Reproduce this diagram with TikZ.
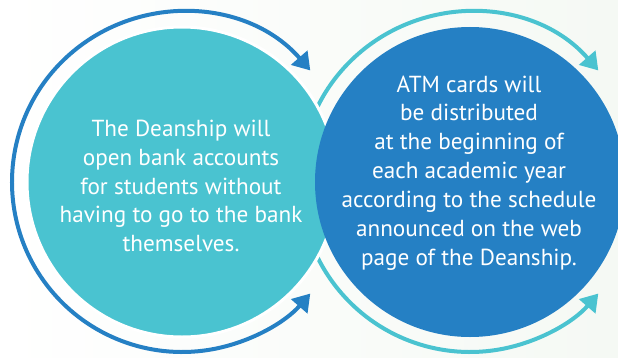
\documentclass[tikz,border=0pt]{standalone}
\usepackage{fontspec}
\setmainfont{PT Sans}
\usetikzlibrary{arrows.meta}
\definecolor{tealc}{RGB}{74,195,208}
\definecolor{bluec}{RGB}{37,128,196}
\definecolor{bgc}{RGB}{245,249,244}

\begin{document}
\begin{tikzpicture}[x=1pt, y=1pt,
		bubble/.style={circle, minimum size=310pt, inner sep=0pt},
		loop/.style={line width=4pt, {Triangle[length=17pt, width=21pt]}-{Triangle[length=17pt, width=21pt]}},
		words/.style={text=white, align=center, font=\fontsize{23.2}{28.9}\selectfont}]
		\clip (0, 0) rectangle (618, 357);
		\shade[left color=white, right color=bgc] (0, 0) rectangle (618, 357);
		%
		\coordinate (Lc) at (182, 175);
		\coordinate (Rc) at (470, 175);
		% Arc round the right circle, partly hidden
		\draw[loop, tealc] ([shift={(41:170)}]Rc) arc[start angle=41, end angle=319, radius=170];
		% The two circles
		\node[bubble, fill=tealc, draw=white, line width=3pt] (L) at (Lc) {};
		\node[bubble, fill=bluec] (R) at (Rc) {};
		% Arc round the left circle
		\draw[loop, bluec] ([shift={(41:170)}]L.center) arc[start angle=41, end angle=319, radius=170];
		%
		\node[words] (Ltext) at (181, 171) {The Deanship will\\open bank accounts\\for students without\\having to go to the bank\\themselves.};
		\node[words] (Rtext) at (469, 184) {ATM cards will\\be distributed\\at the beginning of\\each academic year\\according to the schedule\\announced on the web\\page of the Deanship.};
	\end{tikzpicture}
\end{document}
